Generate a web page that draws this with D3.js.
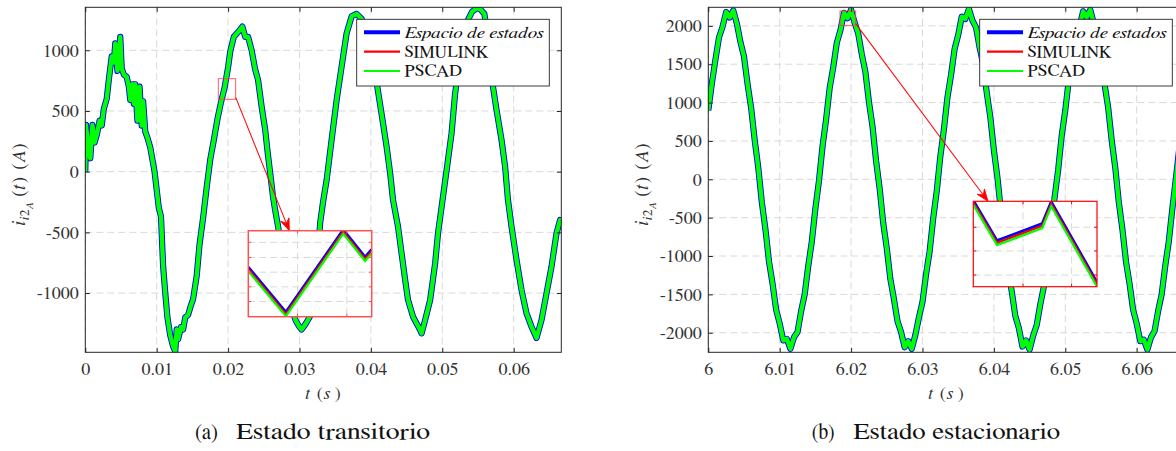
<!DOCTYPE html>
<html><head><meta charset="utf-8">
<script src="https://cdn.jsdelivr.net/npm/d3@7"></script>
<style>
body{margin:0;background:#fff;}
svg{display:block;}
text{font-family:Georgia,FreeSerif;}
</style></head><body>
<svg id="c" width="1176" height="451"></svg>
<script>
// ---------------- DATA ----------------
// (a) transient: time in ms, current in A
const tTransitorio = [
 0,0.1,0.4,0.7,1.0,1.3,1.6,2.0,2.3,2.6,
 3.0,3.3,3.7,4.0,4.2,4.5,4.9,5.1,5.4,5.8,
 6.1,6.3,6.6,6.8,7.0,7.3,7.6,7.9,8.1,8.4,
 8.7,9.1,9.4,9.7,10.0,10.3,10.6,10.9,11.2,11.5,
 11.9,12.3,12.6,12.8,13.0,13.4,13.7,14.0,14.4,14.8,
 15.1,15.6,16.0,16.5,17.0,17.5,18.0,18.5,19.0,19.5,
 20.0,20.3,20.8,21.4,22.0,22.4,22.8,23.3,23.8,24.2,
 24.7,25.2,25.5,25.9,26.3,26.6,27.0,27.5,28.0,28.5,
 29.0,29.5,30.0,30.3,30.8,31.3,31.8,32.3,32.9,33.3,
 33.8,34.5,35.2,35.9,36.6,37.3,38.0,38.7,39.3,39.9,
 40.5,40.9,41.7,42.2,42.7,43.1,43.8,44.3,44.8,45.2,
 45.9,46.9,47.1,47.6,48.3,49.0,49.4,50.1,50.8,51.3,
 51.8,52.4,53.0,53.6,54.2,54.8,55.3,55.9,56.5,57.1,
 57.6,58.3,58.8,59.2,59.7,60.4,61.1,61.8,62.5,63.2,
 63.9,64.6,65.3,66.0,66.5,66.67];
const iTransitorio = [
 0,385,200,110,385,240,300,420,380,520,
 600,760,950,900,1057,830,1110,850,800,780,
 700,590,720,560,720,420,700,380,580,330,
 280,200,100,0,-150,-300,-370,-780,-1000,-1200,
 -1350,-1440,-1480,-1300,-1380,-1280,-1300,-1200,-1180,-1100,
 -1050,-860,-600,-380,-130,100,260,430,570,690,
 860,990,1110,1150,1195,1110,1110,1000,840,755,
 535,343,180,-14,-210,-320,-450,-640,-850,-1020,
 -1150,-1230,-1280,-1300,-1260,-1210,-1150,-900,-420,-250,
 -69,261,590,865,1140,1280,1300,1260,1150,960,
 800,700,398,206,-14,-233,-453,-673,-892,-1057,
 -1195,-1304,-1332,-1222,-1057,-755,-508,-206,96,316,
 645,900,1100,1250,1320,1345,1340,1300,1050,700,
 508,261,41,-233,-453,-728,-975,-1167,-1277,-1370,
 -1222,-1002,-782,-508,-398,-420];

// (b) steady state: time in ms after t = 6 s, current in A
const tEstacionario = [
 0,0.5,1,1.5,2,2.5,3,3.5,4,4.5,5,5.5,6,6.5,7,7.5,8,8.5,9,9.5,
 10,10.5,11,11.5,12,12.5,13,13.5,14,14.5,15,15.5,16,16.5,17,17.5,18,18.5,19,19.5,
 20,20.5,21,21.5,22,22.5,23,23.5,24,24.5,25,25.5,26,26.5,27,27.5,28,28.5,29,29.5,
 30,30.5,31,31.5,32,32.5,33,33.5,34,34.5,35,35.5,36,36.5,37,37.5,38,38.5,39,39.5,
 40,40.5,41,41.5,42,42.5,43,43.5,44,44.5,45,45.5,46,46.5,47,47.5,48,48.5,49,49.5,
 50,50.5,51,51.5,52,52.5,53,53.5,54,54.5,55,55.5,56,56.5,57,57.5,58,58.5,59,59.5,
 60,60.5,61,61.5,62,62.5,63,63.5,64,64.5,65,65.5,66,66.5];
const iEstacionario = [
 900,1250,1560,1850,1990,2180,2110,2200,2030,1790,
 1600,1240,930,510,150,-300,-650,-1070,-1360,-1700,
 -1880,-2100,-2080,-2210,-2060,-1990,-1720,-1500,-1130,-810,
 -380,-20,430,780,1190,1460,1780,1940,2170,2100,
 2210,2040,1900,1630,1400,1010,690,240,-120,-570,
 -900,-1300,-1560,-1850,-1990,-2190,-2110,-2210,-2030,-1800,
 -1600,-1240,-940,-510,-150,300,650,1070,1360,1700,
 1880,2120,2090,2220,2070,1980,1720,1500,1130,810,
 380,20,-430,-780,-1190,-1460,-1780,-1940,-2180,-2100,
 -2220,-2040,-1900,-1630,-1400,-1010,-690,-240,120,570,
 900,1300,1560,1850,1990,2190,2110,2210,2030,1800,
 1600,1240,940,510,150,-300,-650,-1070,-1360,-1700,
 -1880,-2110,-2090,-2220,-2060,-1980,-1720,-1500,-1130,-810,
 -380,20,430,780];

// zoom insets (time ms, current A) – the three models, slightly apart
const tZoomA = [18.63, 19.37, 20.50, 20.93, 21.06];
const zoomA_espacio  = [694, 605, 768, 714, 729];
const zoomA_simulink = [690, 601, 764, 710, 725];
const zoomA_pscad    = [686, 597, 760, 706, 721];
const tZoomB = [18.45, 18.87, 19.67, 19.83, 20.64];
const zoomB_espacio  = [2196, 2106, 2144, 2193, 2013];
const zoomB_simulink = [2191, 2101, 2139, 2188, 2008];
const zoomB_pscad    = [2186, 2096, 2134, 2183, 2003];

const seriesNames = ["Espacio de estados", "SIMULINK", "PSCAD"];
const seriesColors = ["#0000ff", "#ff0000", "#00ff00"];

const xTicksA = [0,10,20,30,40,50,60];
const xLabelsA = ["0","0.01","0.02","0.03","0.04","0.05","0.06"];
const yTicksA = [-1000,-500,0,500,1000];
const yLabelsA = ["-1000","-500","0","500","1000"];
const xTicksB = [0,10,20,30,40,50,60];
const xLabelsB = ["6","6.01","6.02","6.03","6.04","6.05","6.06"];
const yTicksB = [-2000,-1500,-1000,-500,0,500,1000,1500,2000];
const yLabelsB = ["-2000","-1500","-1000","-500","0","500","1000","1500","2000"];
const captions = [["(a)","Estado transitorio"],["(b)","Estado estacionario"]];

// ---------------- LAYOUT ----------------
const svg = d3.select("#c");
const defs = svg.append("defs");
const AX = "#262626";
const FONT = "Georgia, FreeSerif";

const panels = [
 {key:"a", x0:85.3, y0:7.3, w:476, h:345, xDom:[0,66.67], yDom:[-1488,1354],
  xTicks:xTicksA, xLabels:xLabelsA, yTicks:yTicksA, yLabels:yLabelsA,
  t:tTransitorio, v:[iTransitorio,iTransitorio,iTransitorio],
  zoom:{tDom:[18.63,21.06], iDom:[596,766], t:tZoomA, v:[zoomA_espacio,zoomA_simulink,zoomA_pscad],
        box:[248.3,230.7,123.4,86], tGrid:[19.6,20.57], iGrid:[626,655,684,713,743], tipDx:41, border:"#ff5050", bw:1.5},
  cap:captions[0], capX:[195,236], capW:[23,194]},
 {key:"b", x0:708.3, y0:7.3, w:476, h:345, xDom:[0,66.67], yDom:[-2255,2242],
  xTicks:xTicksB, xLabels:xLabelsB, yTicks:yTicksB, yLabels:yLabelsB,
  t:tEstacionario, v:[iEstacionario,iEstacionario,iEstacionario],
  zoom:{tDom:[18.45,20.64], iDom:[2003,2194], t:tZoomB, v:[zoomB_espacio,zoomB_simulink,zoomB_pscad],
        box:[973.3,201.3,123.7,85.4], tGrid:[19.33,20.19], iGrid:[2029,2083,2136], tipDx:14.7, border:"#ff0000", bw:1.2},
  cap:captions[1], capX:[811.7,853.3], capW:[23,206.7]}
];

const mainWidths = [6.2, 2.5, 4.4];
const zoomWidths = [2.8, 2.2, 2.2];
const legendWidths = [4, 2.3, 2];

function drawPanel(p){
  const g = svg.append("g");
  const x = d3.scaleLinear().domain(p.xDom).range([p.x0, p.x0+p.w]);
  const y = d3.scaleLinear().domain(p.yDom).range([p.y0+p.h, p.y0]);

  // grid
  g.append("g").selectAll("line").data(p.xTicks).join("line")
    .attr("x1",d=>x(d)).attr("x2",d=>x(d)).attr("y1",p.y0).attr("y2",p.y0+p.h)
    .attr("stroke","#d9d9d9").attr("stroke-width",1).attr("stroke-dasharray","7,4");
  g.append("g").selectAll("line").data(p.yTicks).join("line")
    .attr("y1",d=>y(d)).attr("y2",d=>y(d)).attr("x1",p.x0).attr("x2",p.x0+p.w)
    .attr("stroke","#d9d9d9").attr("stroke-width",1).attr("stroke-dasharray","7,4");

  // clip
  defs.append("clipPath").attr("id","clip"+p.key).append("rect")
    .attr("x",p.x0).attr("y",p.y0).attr("width",p.w).attr("height",p.h);

  // series
  p.v.forEach((vals,k)=>{
    const line = d3.line().x((d,i)=>x(p.t[i])).y(d=>y(d));
    g.append("path").datum(vals).attr("d",line).attr("fill","none")
      .attr("stroke",seriesColors[k]).attr("stroke-width",mainWidths[k])
      .attr("stroke-linejoin","round").attr("clip-path","url(#clip"+p.key+")");
  });

  const z = p.zoom;
  // source rectangle
  const rx0 = x(z.tDom[0]), rx1 = x(z.tDom[1]), ry0 = y(z.iDom[1]), ry1 = y(z.iDom[0]);
  g.append("rect").attr("x",rx0).attr("y",ry0).attr("width",rx1-rx0).attr("height",ry1-ry0)
    .attr("fill","none").attr("stroke","#ff4040").attr("stroke-opacity",0.85).attr("stroke-width",1);

  // arrow
  const [bx,by,bw,bh] = z.box;
  const ax0 = rx1, ay0 = ry1 - 2, ax1 = bx + z.tipDx, ay1 = by;
  const ang = Math.atan2(ay1-ay0, ax1-ax0);
  const L = Math.hypot(ax1-ax0, ay1-ay0);
  const ag = g.append("g").attr("transform",`translate(${ax0},${ay0}) rotate(${ang*180/Math.PI})`);
  ag.append("line").attr("x1",0).attr("y1",0).attr("x2",L-6).attr("y2",0)
    .attr("stroke","#ff0000").attr("stroke-width",1);
  ag.append("path").attr("d",`M${L},0 L${L-12},-4.5 L${L-8},0 L${L-12},4.5 Z`)
    .attr("fill","#ff0000").attr("stroke","#ff0000").attr("stroke-width",0.8).attr("stroke-linejoin","miter");

  // inset
  const ix = d3.scaleLinear().domain(z.tDom).range([bx,bx+bw]);
  const iy = d3.scaleLinear().domain(z.iDom).range([by+bh,by]);
  const ig = g.append("g");
  ig.append("rect").attr("x",bx).attr("y",by).attr("width",bw).attr("height",bh).attr("fill","#fff");
  ig.append("g").selectAll("line").data(z.tGrid).join("line")
    .attr("x1",d=>ix(d)).attr("x2",d=>ix(d)).attr("y1",by).attr("y2",by+bh)
    .attr("stroke","#d9d9d9").attr("stroke-dasharray","7,4");
  ig.append("g").selectAll("line").data(z.iGrid).join("line")
    .attr("y1",d=>iy(d)).attr("y2",d=>iy(d)).attr("x1",bx).attr("x2",bx+bw)
    .attr("stroke","#d9d9d9").attr("stroke-dasharray","7,4");
  defs.append("clipPath").attr("id","iclip"+p.key).append("rect")
    .attr("x",bx).attr("y",by).attr("width",bw).attr("height",bh);
  z.v.forEach((vals,k)=>{
    const line = d3.line().x((d,i)=>ix(z.t[i])).y(d=>iy(d));
    ig.append("path").datum(vals).attr("d",line).attr("fill","none")
      .attr("stroke",seriesColors[k]).attr("stroke-width",zoomWidths[k])
      .attr("clip-path","url(#iclip"+p.key+")");
  });
  // inset ticks
  z.iGrid.forEach(d=>{
    ig.append("line").attr("x1",bx).attr("x2",bx+3).attr("y1",iy(d)).attr("y2",iy(d)).attr("stroke",z.border);
    ig.append("line").attr("x1",bx+bw-3).attr("x2",bx+bw).attr("y1",iy(d)).attr("y2",iy(d)).attr("stroke",z.border);
  });
  z.tGrid.forEach(d=>{
    ig.append("line").attr("x1",ix(d)).attr("x2",ix(d)).attr("y1",by+bh-3).attr("y2",by+bh).attr("stroke",z.border);
    ig.append("line").attr("x1",ix(d)).attr("x2",ix(d)).attr("y1",by).attr("y2",by+3).attr("stroke",z.border);
  });
  ig.append("rect").attr("x",bx).attr("y",by).attr("width",bw).attr("height",bh)
    .attr("fill","none").attr("stroke",z.border).attr("stroke-width",z.bw);

  // legend
  const lg = g.append("g").attr("transform",`translate(${p.x0+271.4},19.3)`);
  lg.append("rect").attr("width",192.6).attr("height",66.7).attr("fill","#fff")
    .attr("stroke",AX).attr("stroke-width",0.9);
  const rows = [13,32.4,51.7];
  const lw = [139, 84, 57.7];
  seriesNames.forEach((nm,k)=>{
    lg.append("line").attr("x1",7.3).attr("x2",43.3).attr("y1",rows[k]).attr("y2",rows[k])
      .attr("stroke",seriesColors[k]).attr("stroke-width",legendWidths[k]);
    const t = lg.append("text").attr("x",47.7).attr("y",rows[k]+5.5).attr("font-size",k===0?16.5:17)
      .attr("fill","#111").attr("textLength",lw[k]).attr("lengthAdjust","spacingAndGlyphs").text(nm);
    if(k===0) t.attr("font-style","italic");
  });

  // axes
  const styleAxis = sel => {
    sel.select(".domain").remove();
    sel.attr("font-family",null);
    sel.selectAll(".tick line").attr("stroke",AX);
    sel.selectAll("text").attr("fill","#333").attr("font-size",18).style("font-family",FONT);
  };
  g.append("g").attr("transform",`translate(0,${p.y0+p.h})`)
    .call(d3.axisBottom(x).tickValues(p.xTicks).tickFormat((d,i)=>p.xLabels[i]).tickSizeInner(-4.5).tickSizeOuter(0).tickPadding(10.4))
    .call(styleAxis);
  g.append("g").attr("transform",`translate(0,${p.y0})`)
    .call(d3.axisTop(x).tickValues(p.xTicks).tickFormat("").tickSizeInner(-4.5).tickSizeOuter(0))
    .call(styleAxis);
  g.append("g").attr("transform",`translate(${p.x0},0)`)
    .call(d3.axisLeft(y).tickValues(p.yTicks).tickFormat((d,i)=>p.yLabels[i]).tickSizeInner(-4.5).tickSizeOuter(0).tickPadding(6.5))
    .call(styleAxis);
  g.append("g").attr("transform",`translate(${p.x0+p.w},0)`)
    .call(d3.axisRight(y).tickValues(p.yTicks).tickFormat("").tickSizeInner(-4.5).tickSizeOuter(0))
    .call(styleAxis);
  g.append("rect").attr("x",p.x0).attr("y",p.y0).attr("width",p.w).attr("height",p.h)
    .attr("fill","none").attr("stroke",AX).attr("stroke-width",1);

  // y label  i_{i2_A}(t) (A)
  const yc = p.y0 + p.h/2;
  const yl = g.append("text").attr("transform",`translate(${p.x0-60},${yc}) rotate(-90)`)
    .attr("font-size",19).attr("fill","#333");
  yl.append("tspan").attr("x",-46).attr("y",0).attr("font-style","italic").text("i");
  yl.append("tspan").attr("x",-40.5).attr("y",4).attr("font-size",13.5).attr("font-style","italic").text("i");
  yl.append("tspan").attr("x",-36.5).attr("y",4).attr("font-size",13.5).text("2");
  yl.append("tspan").attr("x",-29.5).attr("y",7.5).attr("font-size",10.5).attr("font-style","italic").text("A");
  yl.append("tspan").attr("x",-17).attr("y",0).text("(");
  yl.append("tspan").attr("x",-10).attr("y",0).attr("font-style","italic").text("t");
  yl.append("tspan").attr("x",-3.5).attr("y",0).text(")");
  yl.append("tspan").attr("x",10).attr("y",0).text("(");
  yl.append("tspan").attr("x",17).attr("y",0).attr("font-style","italic").text("A");
  yl.append("tspan").attr("x",30).attr("y",0).text(")");

  // x label  t (s)
  const xc = p.x0 + p.w/2;
  const xl = g.append("text").attr("y",398.5).attr("font-size",18).attr("fill","#333");
  xl.append("tspan").attr("x",xc-18).attr("font-style","italic").text("t");
  xl.append("tspan").attr("x",xc-6.5).text("(");
  xl.append("tspan").attr("x",xc+0.5).attr("font-style","italic").text("s");
  xl.append("tspan").attr("x",xc+11.5).text(")");

  // caption
  g.append("text").attr("x",p.capX[0]).attr("y",439).attr("font-size",22.5).attr("fill","#111")
    .attr("textLength",p.capW[0]).attr("lengthAdjust","spacingAndGlyphs").text(p.cap[0]);
  g.append("text").attr("x",p.capX[1]).attr("y",439).attr("font-size",22.5).attr("fill","#111")
    .attr("textLength",p.capW[1]).attr("lengthAdjust","spacingAndGlyphs").text(p.cap[1]);
}
panels.forEach(drawPanel);
</script>
</body></html>
